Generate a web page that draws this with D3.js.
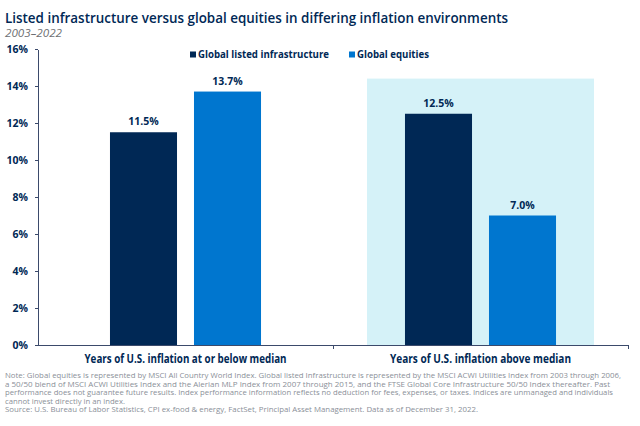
<html>
    <head>
        <style>
            body { margin: 0; background: #fff; }
            text { font-family: "Open Sans", "Noto Sans", sans-serif; }
            .axis path, .axis line { stroke: #3b4a6b; shape-rendering: crispEdges; }
        </style>
    </head>
    <body>
        <div id="chart"></div>
        <script src="https://d3js.org/d3.v7.min.js"></script>
        <script>
            const categories = ['Years of U.S. inflation at or below median', 'Years of U.S. inflation above median'];
            const seriesNames = ['Global listed infrastructure', 'Global equities'];
            const infrastructure = [11.5, 12.5];
            const equities = [13.7, 7.0];
            const yTicks = [0, 2, 4, 6, 8, 10, 12, 14, 16];
            const highlighted = ['Years of U.S. inflation above median'];
            const notes = [
                'Note: Global equities is represented by MSCI All Country World Index. Global listed Infrastructure is represented by the MSCI ACWI Utilities Index from 2003 through 2006,',
                'a 50/50 blend of MSCI ACWI Utilities Index and the Alerian MLP Index from 2007 through 2015, and the FTSE Global Core Infrastructure 50/50 Index thereafter. Past',
                'performance does not guarantee future results. Index performance information reflects no deduction for fees, expenses, or taxes. Indices are unmanaged and individuals',
                'cannot invest directly in an index.',
                'Source: U.S. Bureau of Labor Statistics, CPI ex-food & energy, FactSet, Principal Asset Management. Data as of December 31, 2022.'
            ];
            const noteWidths = [616, 605, 608, 120, 473];

            const colors = ['#002855', '#0076cf'];
            const navy = '#002855';

            const W = 640, H = 426;
            const svg = d3.select('#chart').append('svg')
                .attr('width', W).attr('height', H);

            // squeeze text to a measured width
            function fit(sel, w) {
                sel.each(function () {
                    const len = this.getComputedTextLength();
                    if (len > 0) d3.select(this).attr('textLength', w).attr('lengthAdjust', 'spacingAndGlyphs');
                });
                return sel;
            }

            const x0 = d3.scaleBand().domain(categories).range([38, 628])
                .paddingInner(0.488).paddingOuter(0.244);
            const x1 = d3.scaleBand().domain(seriesNames).range([0, x0.bandwidth()])
                .paddingInner(0.202).paddingOuter(0);
            const y = d3.scaleLinear().domain([0, 16]).range([345, 49]);

            // highlighted background
            svg.selectAll('.hl').data(highlighted).enter().append('rect')
                .attr('x', d => x0(d) + x0.bandwidth() / 2 - 113.5)
                .attr('width', 227)
                .attr('y', y(14.4))
                .attr('height', y(0) - y(14.4))
                .attr('fill', '#d5f2f8');

            const rows = categories.map((c, i) => ({ cat: c, vals: [infrastructure[i], equities[i]] }));
            const groups = svg.selectAll('.grp').data(rows).enter().append('g')
                .attr('transform', d => `translate(${x0(d.cat)},0)`);

            groups.selectAll('rect').data(d => d.vals.map((v, j) => ({ s: seriesNames[j], v, j })))
                .enter().append('rect')
                .attr('x', d => x1(d.s))
                .attr('width', x1.bandwidth())
                .attr('y', d => y(d.v))
                .attr('height', d => y(0) - y(d.v))
                .attr('fill', d => colors[d.j]);

            groups.selectAll('.val').data(d => d.vals.map((v, j) => ({ s: seriesNames[j], v })))
                .enter().append('text')
                .attr('x', d => x1(d.s) + x1.bandwidth() / 2)
                .attr('y', d => y(d.v) - 7)
                .attr('text-anchor', 'middle')
                .attr('font-size', 10.5).attr('font-weight', 700)
                .attr('fill', navy)
                .text(d => d.v.toFixed(1) + '%');

            // y axis
            const ya = svg.append('g').attr('class', 'axis')
                .attr('transform', 'translate(38,0)')
                .call(d3.axisLeft(y).tickValues(yTicks).tickSize(3).tickSizeOuter(0).tickFormat(d => d + '%'));
            ya.selectAll('text').attr('x', -10).attr('font-size', 10.5).attr('font-weight', 700)
                .attr('fill', navy).style('font-family', '"Open Sans", sans-serif');

            // x axis
            const xa = svg.append('g').attr('class', 'axis')
                .attr('transform', 'translate(0,345)')
                .call(d3.axisBottom(x0).tickSize(0).tickSizeOuter(0));
            xa.selectAll('.tick line').remove();
            xa.selectAll('text').attr('y', 10).attr('dy', '0.71em').attr('font-size', 11.5).attr('font-weight', 700)
                .attr('fill', navy).style('font-family', '"Open Sans", sans-serif')
                .each(function (d, i) { fit(d3.select(this), i === 0 ? 202 : 181); });
            // divider ticks between and after categories
            xa.selectAll('.sep').data(categories).enter().append('line')
                .attr('x1', d => x0(d) + x0.bandwidth() + x0.step() * 0.244)
                .attr('x2', d => x0(d) + x0.bandwidth() + x0.step() * 0.244)
                .attr('y1', 0).attr('y2', 4);

            // title
            fit(svg.append('text').attr('x', 5).attr('y', 22.5)
                .attr('font-size', 14.5).attr('font-weight', 600).attr('fill', navy)
                .text('Listed infrastructure versus global equities in differing inflation environments'), 503);
            fit(svg.append('text').attr('x', 5).attr('y', 37)
                .attr('font-size', 11).attr('font-style', 'italic').attr('fill', '#6d6f73')
                .text('2003\u20132022'), 57);

            // legend
            const legX = [190, 349], legW = [131, 72];
            const leg = svg.selectAll('.leg').data(seriesNames).enter().append('g')
                .attr('transform', (d, i) => `translate(${legX[i]},0)`);
            leg.append('rect').attr('x', 0).attr('y', 51.5).attr('width', 6).attr('height', 6)
                .attr('fill', (d, i) => colors[i]);
            leg.append('text').attr('x', 8).attr('y', 58)
                .attr('font-size', 11).attr('font-weight', 700).attr('fill', navy)
                .text(d => d)
                .each(function (d, i) { fit(d3.select(this), legW[i]); });

            // footnotes
            svg.selectAll('.note').data(notes).enter().append('text')
                .attr('x', 5).attr('y', (d, i) => 378 + i * 8.5)
                .attr('font-size', 7.6).attr('fill', '#8a8f98')
                .text(d => d)
                .each(function (d, i) { fit(d3.select(this), noteWidths[i]); });
        </script>
    </body>
</html>
